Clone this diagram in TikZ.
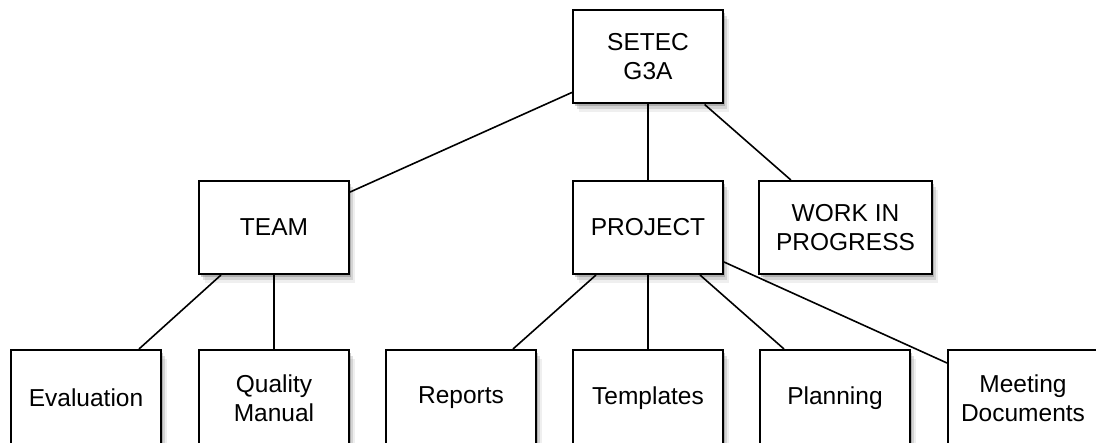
\documentclass[tikz,border=0pt]{standalone}
\usepackage{fontspec}
\setmainfont{Liberation Sans}
\usetikzlibrary{shadows}
\begin{document}
\begin{tikzpicture}[x=1pt,y=-1pt,
  box/.style={draw=black,line width=2pt,fill=white,rectangle,align=center,
    minimum width=150pt,minimum height=93pt,inner sep=0pt,
    font=\fontsize{24.5}{29}\selectfont,
    drop shadow={shadow xshift=2pt,shadow yshift=-3pt,opacity=.35,fill=black!60},
    drop shadow={shadow xshift=4pt,shadow yshift=-6pt,opacity=.2,fill=black!60},
    drop shadow={shadow xshift=6pt,shadow yshift=-9pt,opacity=.1,fill=black!60}},
  low/.style={box,minimum height=96pt},
  conn/.style={draw=black,line width=1.6pt}]
\useasboundingbox (0,0) rectangle (1096,443);
\node[box] (setec) at (648,57) {SETEC\\G3A};
\node[box] (team) at (274,227.5) {TEAM};
\node[box] (project) at (648,227.5) {PROJECT};
\node[box,minimum width=173pt] (wip) at (845.5,227.5) {WORK IN\\PROGRESS};
\node[low] (eval) at (86,398) {Evaluation};
\node[low] (quality) at (274,398) {Quality\\Manual};
\node[low] (reports) at (461,398) {Reports};
\node[low] (templates) at (648,398) {Templates};
\node[low] (planning) at (835,398) {Planning};
\node[low] (meeting) at (1023,398) {Meeting\\Documents};
\draw[conn] (setec.205) -- (team.25);
\draw[conn] (setec.south) -- (project.north);
\draw[conn] (setec.-40) -- (wip.139);
\draw[conn] ([xshift=-53pt]team.south) -- ([xshift=53pt]eval.north);
\draw[conn] (team.south) -- (quality.north);
\draw[conn] ([xshift=-52pt]project.south) -- ([xshift=52pt]reports.north);
\draw[conn] (project.south) -- (templates.north);
\draw[conn] ([xshift=52pt]project.south) -- ([xshift=-51pt]planning.north);
\draw[conn] ([yshift=-34.5pt]project.east) -- ([yshift=35pt]meeting.west);
\end{tikzpicture}
\end{document}
